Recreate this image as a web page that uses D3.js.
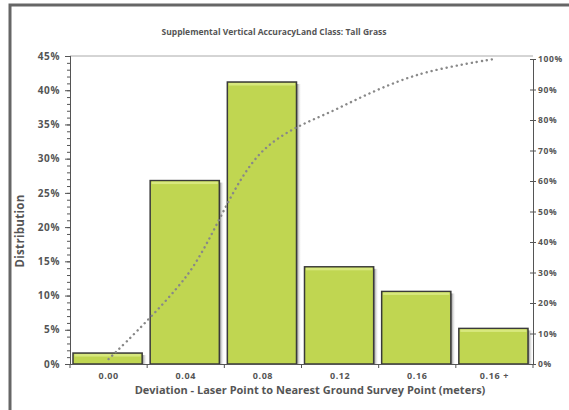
<!DOCTYPE html>
<html>
<head>
<meta charset="utf-8">
<script src="https://cdn.jsdelivr.net/npm/d3@7"></script>
<style>
  body { margin: 0; background: #fff; }
  text { font-family: "Open Sans", "DejaVu Sans", sans-serif; font-weight: 700; fill: #555; }
</style>
</head>
<body>
<div id="chart"></div>
<script>
// chart data
const categories = ["0.00", "0.04", "0.08", "0.12", "0.16", "0.16 +"];
const distribution = [1.6, 26.8, 41.2, 14.2, 10.6, 5.2];
const leftTicks = [0, 5, 10, 15, 20, 25, 30, 35, 40, 45];
const rightTicks = [0, 10, 20, 30, 40, 50, 60, 70, 80, 90, 100];

const W = 569, H = 410;
const margin = {top: 56, right: 36, bottom: 46, left: 70};

const svg = d3.select("#chart").append("svg")
    .attr("width", W)
    .attr("height", H);

// outer frame
svg.append("rect")
    .attr("x", 10).attr("y", 5)
    .attr("width", 600).attr("height", 500)
    .attr("fill", "#fff")
    .attr("stroke", "#666")
    .attr("stroke-width", 3);

const x = d3.scaleBand()
    .domain(categories)
    .range([margin.left, W - margin.right]);

const y = d3.scaleLinear()
    .domain([0, 45])
    .range([H - margin.bottom, margin.top]);

const y2 = d3.scaleLinear()
    .domain([0, 100])
    .range([H - margin.bottom, 59]);

// cumulative percentage for the dotted line
let run = 0;
const total = d3.sum(distribution);
const cumulative = distribution.map(v => (run += v) / total * 100);

const defs = svg.append("defs");
const shade = defs.append("linearGradient").attr("id", "shade");
shade.append("stop").attr("offset", "0%").attr("stop-color", "#777");
shade.append("stop").attr("offset", "100%").attr("stop-color", "#fff").attr("stop-opacity", 0);

// plot top border
svg.append("line")
    .attr("x1", margin.left).attr("x2", W - margin.right)
    .attr("y1", margin.top).attr("y2", margin.top)
    .attr("stroke", "#aaa");

// bars
const bars = svg.append("g").selectAll("g")
    .data(distribution)
  .enter().append("g");

const bx = (d, i) => x(categories[i]) + 3;
const bw = x.bandwidth() - 8;

bars.append("rect")
    .attr("x", (d, i) => bx(d, i) + bw)
    .attr("y", d => y(d) + 2)
    .attr("width", 5)
    .attr("height", d => y(0) - y(d) - 2)
    .attr("fill", "url(#shade)");

bars.append("rect")
    .attr("x", bx)
    .attr("y", d => y(d))
    .attr("width", bw)
    .attr("height", d => y(0) - y(d))
    .attr("fill", "#c0d651")
    .attr("stroke", "#3a3a3a")
    .attr("stroke-width", 1.5);

bars.append("rect")
    .attr("x", (d, i) => bx(d, i) + 1.5)
    .attr("y", d => y(d) + 1)
    .attr("width", bw - 3)
    .attr("height", 2.5)
    .attr("fill", "#d8e87e");

// cumulative dotted curve
const line = d3.line()
    .x((d, i) => x(categories[i]) + x.bandwidth() / 2)
    .y(d => y2(d))
    .curve(d3.curveCatmullRom.alpha(0.5));

svg.append("path")
    .datum(cumulative)
    .attr("d", line)
    .attr("fill", "none")
    .attr("stroke", "#888")
    .attr("stroke-width", 2.4)
    .attr("stroke-linecap", "round")
    .attr("stroke-dasharray", "0.1,5");

const tickFont = sel => sel
    .attr("font-family", "Open Sans, DejaVu Sans, sans-serif")
    .attr("font-weight", 700)
    .attr("fill", "#555")
    .attr("letter-spacing", 0.6);

// left axis
const left = svg.append("g")
    .attr("transform", `translate(${margin.left},0)`);
left.call(d3.axisLeft(y).tickValues(d3.range(0, 46, 1)).tickSize(3).tickFormat(""));
left.call(g => g.selectAll(".tick line").attr("x2", -3).attr("x1", 1).attr("stroke", "#555"));
left.append("g")
    .call(d3.axisLeft(y).tickValues(leftTicks).tickSize(5).tickFormat(d => d + "%"))
    .call(g => g.select(".domain").remove())
    .call(g => g.selectAll("text").attr("font-size", 10).attr("x", -10).call(tickFont));
left.selectAll(".domain").attr("stroke", "#555");
left.selectAll(".tick line").attr("stroke", "#555");

// right axis
const right = svg.append("g")
    .attr("transform", `translate(${W - margin.right},0)`)
    .call(d3.axisRight(y2).tickValues(rightTicks).tickSize(3).tickFormat(d => d + "%"));
right.select(".domain").attr("stroke", "#555");
right.selectAll(".tick line").attr("x1", -3).attr("stroke", "#555");
right.selectAll("text").attr("font-size", 8.5).attr("x", 5).call(tickFont);

// bottom axis
const bottom = svg.append("g")
    .attr("transform", `translate(0,${H - margin.bottom})`)
    .call(d3.axisBottom(x).tickSize(0).tickPadding(9));
bottom.select(".domain").attr("stroke", "#555");
bottom.selectAll("text").attr("font-size", 9).call(tickFont);
bottom.selectAll(".edge")
    .data(d3.range(categories.length + 1))
  .enter().append("line")
    .attr("x1", i => margin.left + i * x.step())
    .attr("x2", i => margin.left + i * x.step())
    .attr("y1", 0).attr("y2", 4)
    .attr("stroke", "#555");

// titles
svg.append("text")
    .attr("x", 274).attr("y", 35)
    .attr("text-anchor", "middle")
    .attr("font-size", 8.5)
    .text("Supplemental Vertical AccuracyLand Class: Tall Grass");

svg.append("text")
    .attr("x", 310).attr("y", 394)
    .attr("text-anchor", "middle")
    .attr("font-size", 11)
    .text("Deviation - Laser Point to Nearest Ground Survey Point (meters)");

svg.append("text")
    .attr("transform", "translate(24,231) rotate(-90)")
    .attr("text-anchor", "middle")
    .attr("font-size", 11.5)
    .attr("letter-spacing", 0.3)
    .text("Distribution");
</script>
</body>
</html>
